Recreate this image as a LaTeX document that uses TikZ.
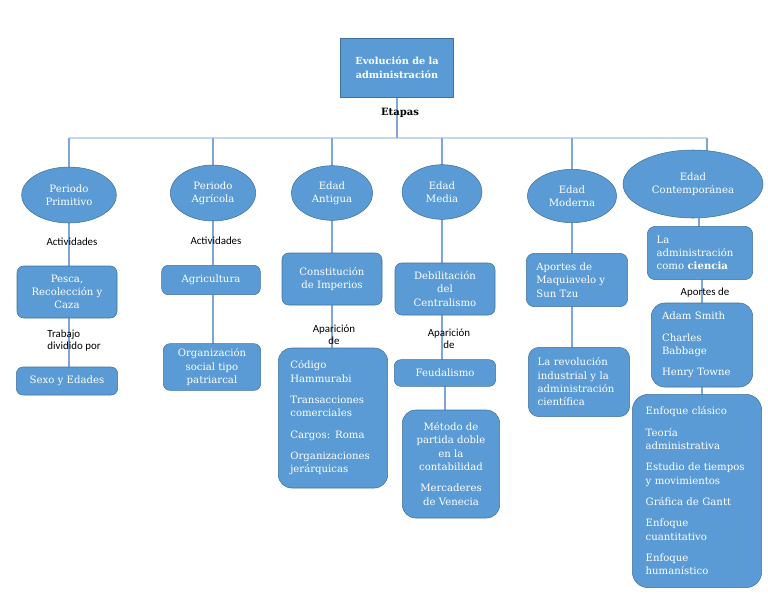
\documentclass[tikz,border=0pt]{standalone}
\usepackage{fontspec}
\setmainfont{DejaVu Serif}
\newfontfamily\lblfont{Carlito}
\usepackage{tikz}
\usetikzlibrary{shapes.geometric,backgrounds}
\definecolor{boxfill}{HTML}{5B9BD5}
\definecolor{boxline}{HTML}{41719C}
\definecolor{linecol}{HTML}{7EA6D8}
\definecolor{buscol}{HTML}{C5D7EE}
\newcommand\cajafont{\fontsize{7.6}{10}\selectfont}

\begin{document}
\begin{tikzpicture}[x=0.75pt,y=-0.75pt,
  etapa/.style={ellipse,draw=boxline,fill=boxfill,text=white,inner sep=0pt,align=center,font=\cajafont},
  caja/.style={rectangle,rounded corners=5pt,draw=boxline,fill=boxfill,text=white,inner sep=0pt,align=center,font=\cajafont},
  lista/.style={caja,rounded corners=10pt,align=left,inner ysep=0pt},
  rotulo/.style={font=\lblfont\fontsize{8.2}{9}\selectfont,align=center,inner sep=1pt},
  enlace/.style={draw=linecol,line width=1.1pt}]
\useasboundingbox (0,0) rectangle (768,594);

\node[caja,rounded corners=0pt,minimum width=85pt,minimum height=44pt,font=\fontsize{7.3}{10.5}\selectfont\bfseries] (titulo) at (397,67.5) {Evolución de la\\administración};
\node[font=\fontsize{7.5}{9}\selectfont\bfseries,inner sep=1pt] (etapas) at (400,113) {Etapas};
\coordinate (bus) at (397,138);
\coordinate (busizq) at (69,138);
\coordinate (busder) at (707,138);

\node[etapa,minimum width=71pt,minimum height=42pt] (primitivo) at (69,195) {Periodo\\Primitivo};
\node[etapa,minimum width=64pt,minimum height=42pt] (agricola) at (213,193) {Periodo\\Agrícola};
\node[etapa,minimum width=61pt,minimum height=41pt] (antigua) at (332,193) {Edad\\Antigua};
\node[etapa,minimum width=60pt,minimum height=41pt] (media) at (442,192) {Edad\\Media};
\node[etapa,minimum width=67pt,minimum height=40pt] (moderna) at (572,196) {Edad\\Moderna};
\node[etapa,minimum width=105pt,minimum height=51pt] (contemp) at (693,184) {Edad\\Contemporánea};

% Periodo primitivo
\node[rotulo] (act1) at (72,242) {Actividades};
\node[caja,minimum width=75pt,minimum height=39pt] (pesca) at (67,292) {Pesca,\\Recolección y\\Caza};
\node[rotulo,align=left] (trabajo) at (74,341) {Trabajo\\dividido por};
\node[caja,minimum width=76pt,minimum height=21pt] (sexo) at (67,381) {Sexo y Edades};

% Periodo agricola
\node[rotulo] (act2) at (216,241) {Actividades};
\node[caja,minimum width=74pt,minimum height=22pt] (agricultura) at (211,280) {Agricultura};
\node[caja,minimum width=73pt,minimum height=35pt] (patriarcal) at (212,367) {Organización\\social tipo\\patriarcal};

% Edad antigua
\node[caja,minimum width=75pt,minimum height=39pt] (imperios) at (332,279) {Constitución\\de Imperios};
\node[rotulo] (apar1) at (334,335) {Aparición\\de};
\node[lista,inner xsep=9pt,text width=64pt,minimum height=105pt] (hammurabi) at (333,418)
  {Código\\Hammurabi\\[6pt]Transacciones\\comerciales\\[6pt]Cargos: Roma\\[6pt]Organizaciones\\jerárquicas};

% Edad media
\node[caja,minimum width=75pt,minimum height=39pt] (centralismo) at (445,289) {Debilitación\\del\\Centralismo};
\node[rotulo] (apar2) at (449,339) {Aparición\\de};
\node[caja,minimum width=76pt,minimum height=20pt] (feudalismo) at (445,373) {Feudalismo};
\node[caja,rounded corners=10pt,minimum width=73pt,minimum height=81pt] (partida) at (451,464)
  {Método de\\partida doble\\en la\\contabilidad\\[6pt]Mercaderes\\de Venecia};

% Edad moderna
\node[lista,rounded corners=6pt,inner xsep=7.5pt,text width=61pt,minimum height=40pt] (maquiavelo) at (577,280)
  {Aportes de\\Maquiavelo y\\Sun Tzu};
\node[lista,rounded corners=8pt,inner xsep=7pt,text width=62pt,minimum height=52pt] (revolucion) at (579,382)
  {La revolución\\industrial y la\\administración\\científica};

% Edad contemporanea
\node[lista,rounded corners=6pt,inner xsep=7pt,text width=65pt,minimum height=40pt] (ciencia) at (700,253)
  {La\\administración\\como \textbf{ciencia}};
\node[rotulo] (aportes) at (705,293) {Aportes de};
\node[lista,inner xsep=8pt,text width=60pt,minimum height=63pt] (autores) at (702,345)
  {Adam Smith\\[6pt]Charles\\Babbage\\[6pt]Henry Towne};
\node[lista,rounded corners=12pt,inner xsep=10pt,text width=77pt,minimum height=145pt] (enfoques) at (697,491)
  {Enfoque clásico\\[6pt]Teoría\\administrativa\\[6pt]Estudio de tiempos\\y movimientos\\[6pt]Gráfica de Gantt\\[6pt]Enfoque\\cuantitativo\\[6pt]Enfoque\\humanístico};

\begin{scope}[on background layer]
\draw[buscol,line width=1.5pt] (busizq) -- (busder);
\draw[enlace] (titulo.south) -- (bus);
\draw[enlace] (busizq) -- (primitivo.center);
\draw[enlace] (agricola.center |- bus) -- (agricola.center);
\draw[enlace] (antigua.center |- bus) -- (antigua.center);
\draw[enlace] (media.center |- bus) -- (media.center);
\draw[enlace] (moderna.center |- bus) -- (moderna.center);
\draw[enlace] (busder) -- (busder |- contemp.center);
\draw[enlace] (primitivo.center) -- (primitivo.center |- sexo.center);
\draw[enlace] (agricola.center) -- (agricola.center |- patriarcal.center);
\draw[enlace] (antigua.center) -- (antigua.center |- hammurabi.center);
\draw[enlace] (media.center) -- (media.center |- feudalismo.center);
\draw[enlace] (feudalismo.center) -- (feudalismo.center |- partida.center);
\draw[enlace] (moderna.center) -- (moderna.center |- revolucion.center);
\draw[enlace] (ciencia.center -| 699,0) -- (contemp.center -| 699,0);
\draw[enlace] (autores.center) -- (autores.center |- ciencia.center);
\draw[enlace] (autores.center) -- (autores.center |- enfoques.center);
\end{scope}
\end{tikzpicture}
\end{document}
